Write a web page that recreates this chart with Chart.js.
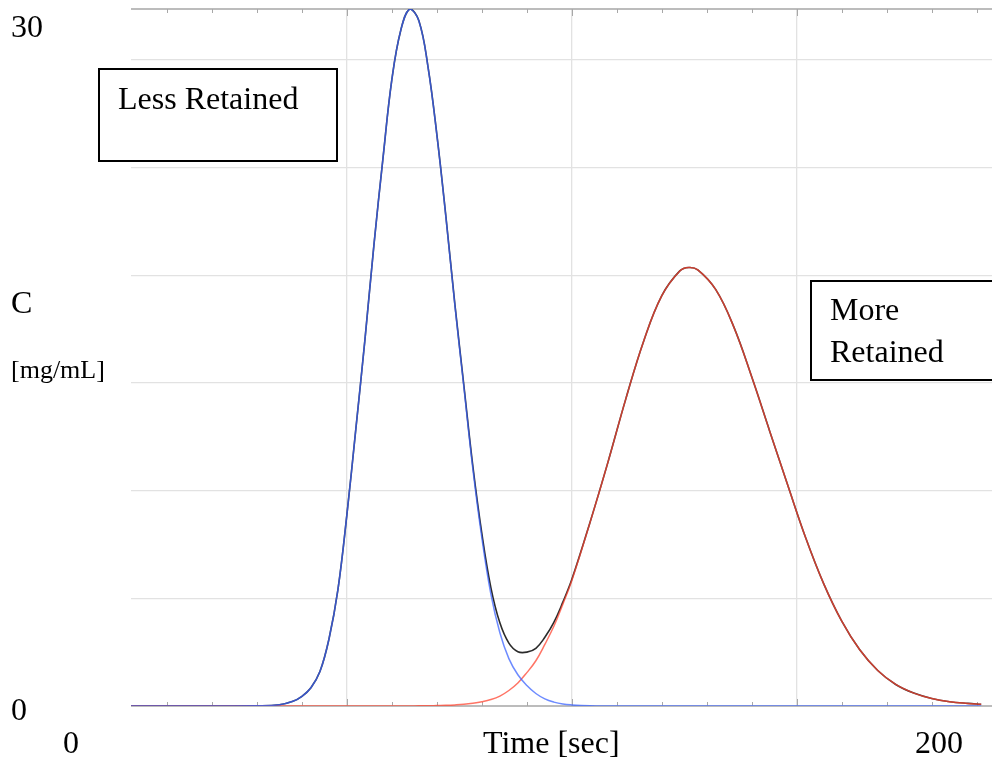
<!DOCTYPE html>
<html>
<head>
<meta charset="utf-8">
<script src="https://cdn.jsdelivr.net/npm/chart.js@4.4.1/dist/chart.umd.min.js"></script>
<style>
  html, body { margin: 0; padding: 0; background: #fff; }
  #wrap { width: 992px; height: 759px; position: relative; }
</style>
</head>
<body>
<div id="wrap"><canvas id="myChart"></canvas></div>
<script>
// * data (time in sec, C in mg/mL)
const times = [2, 10, 20, 30, 35, 38, 40, 42, 44, 46, 48, 50, 52, 54, 56, 58, 60, 62, 64, 66,
  68, 70, 72, 74, 76, 78, 80, 82, 84, 86, 88, 90, 92, 94, 96, 98, 100, 104, 108, 112,
  116, 120, 124, 126, 128, 132, 136, 140, 144, 148, 152, 156, 160, 164, 168, 172, 176, 180, 184, 188, 191];

const lessRetained = [0, 0, 0, 0.01, 0.06, 0.22, 0.45, 0.85, 1.6, 3.1, 5.4, 8.9, 12.9, 17.0, 21.4, 25.4, 29.1, 31.4, 32.36, 31.8,
  29.7, 26.5, 22.7, 18.6, 14.8, 11.0, 7.8, 5.2, 3.4, 2.2, 1.45, 0.95, 0.58, 0.33, 0.18, 0.09, 0.05, 0.01, 0, 0,
  0, 0, 0, 0, 0, 0, 0, 0, 0, 0, 0, 0, 0, 0, 0, 0, 0, 0, 0, 0, 0];

const moreRetained = [0, 0, 0, 0, 0, 0, 0, 0, 0, 0, 0, 0, 0, 0, 0, 0, 0, 0, 0, 0.01,
  0.01, 0.02, 0.03, 0.05, 0.08, 0.13, 0.2, 0.3, 0.46, 0.72, 1.07, 1.55, 2.1, 2.86, 3.7, 4.73, 5.83, 8.49, 11.3, 14.26,
  16.96, 19.05, 20.2, 20.36, 20.25, 19.33, 17.6, 15.27, 12.75, 10.25, 7.8, 5.67, 3.94, 2.61, 1.65, 1.0, 0.6, 0.35, 0.2, 0.12, 0.08];

const total = [0, 0, 0, 0.01, 0.06, 0.22, 0.45, 0.85, 1.6, 3.1, 5.4, 8.9, 12.9, 17.0, 21.4, 25.4, 29.1, 31.4, 32.36, 31.81,
  29.71, 26.52, 22.73, 18.65, 14.88, 11.13, 8.0, 5.5, 3.86, 2.92, 2.52, 2.5, 2.68, 3.19, 3.88, 4.82, 5.88, 8.5, 11.3, 14.26,
  16.96, 19.05, 20.2, 20.36, 20.25, 19.33, 17.6, 15.27, 12.75, 10.25, 7.8, 5.67, 3.94, 2.61, 1.65, 1.0, 0.6, 0.35, 0.2, 0.12, 0.08];

const xMin = 2, xMax = 193.4;
const yMax = 32.36;
const minorTicks = [10, 20, 30, 40, 50, 60, 70, 80, 90, 100, 110, 120, 130, 140, 150, 160, 170, 180, 190];

const serif = "'Liberation Serif', 'Times New Roman', serif";

function pts(ys) {
  return times.map((t, i) => ({ x: t, y: ys[i] }));
}

// * frame lines + small inward ticks on top and bottom
const framePlugin = {
  id: "frame",
  beforeDatasetsDraw(chart) {
    const { ctx, chartArea: a, scales } = chart;
    ctx.save();
    ctx.strokeStyle = "#a6a6a6";
    ctx.lineWidth = 1.5;
    ctx.beginPath();
    ctx.moveTo(a.left, a.top); ctx.lineTo(a.right, a.top);
    ctx.moveTo(a.left, a.bottom); ctx.lineTo(a.right, a.bottom);
    ctx.stroke();
    ctx.lineWidth = 1;
    ctx.strokeStyle = "#a8a8a8";
    for (const t of minorTicks) {
      const x = Math.round(scales.x.getPixelForValue(t)) + 0.5;
      const len = t % 50 === 0 ? 7 : 4;
      ctx.beginPath();
      ctx.moveTo(x, a.top); ctx.lineTo(x, a.top + len);
      ctx.moveTo(x, a.bottom); ctx.lineTo(x, a.bottom - len);
      ctx.stroke();
    }
    ctx.restore();
  },
  afterDraw(chart) {
    const { ctx } = chart;
    ctx.save();
    ctx.fillStyle = "#000";
    ctx.textBaseline = "alphabetic";
    ctx.font = "32px " + serif;
    ctx.fillText("30", 11, 37);
    ctx.fillText("C", 11, 313);
    ctx.fillText("0", 11, 720);
    ctx.fillText("0", 63, 753);
    ctx.fillText("Time [sec]", 483, 753);
    ctx.fillText("200", 915, 753);
    ctx.font = "26px " + serif;
    ctx.fillText("[mg/mL]", 11, 378);

    // text boxes
    ctx.lineWidth = 2;
    ctx.strokeStyle = "#000";
    ctx.fillStyle = "#fff";
    ctx.fillRect(99, 69, 238, 92);
    ctx.strokeRect(99, 69, 238, 92);
    ctx.fillRect(811, 281, 190, 99);
    ctx.strokeRect(811, 281, 190, 99);
    ctx.fillStyle = "#000";
    ctx.font = "32px " + serif;
    ctx.fillText("Less Retained", 118, 109);
    ctx.fillText("More", 830, 320);
    ctx.fillText("Retained", 830, 362);
    ctx.restore();
  },
};

const data = {
  datasets: [
    {
      label: "Less Retained",
      data: pts(lessRetained),
      borderColor: "rgba(60,100,255,0.75)",
      borderWidth: 1.5,
      order: 0,
    },
    {
      label: "More Retained",
      data: pts(moreRetained),
      borderColor: "rgba(255,70,50,0.75)",
      borderWidth: 1.5,
      order: 1,
    },
    {
      label: "Total",
      data: pts(total),
      borderColor: "rgba(20,20,20,0.9)",
      borderWidth: 1.6,
      order: 2,
    },
  ],
};

let config = {
  type: "line",
  data: data,
  options: {
    responsive: true,
    maintainAspectRatio: false,
    animation: false,
    layout: { padding: { left: 131, top: 9, right: 0, bottom: 53 } },
    elements: {
      point: { radius: 0 },
      line: { tension: 0.4, fill: false },
    },
    plugins: {
      legend: { display: false },
      tooltip: { enabled: false },
    },
    scales: {
      x: {
        type: "linear",
        min: xMin,
        max: xMax,
        ticks: { display: false, stepSize: 10 },
        border: { display: false },
        grid: {
          drawTicks: false,
          lineWidth: 1.3,
          color: (c) => (c.tick && c.tick.value % 50 === 0 ? "#e2e2e2" : "rgba(0,0,0,0)"),
        },
        afterFit(scale) { scale.height = 0; },
      },
      y: {
        min: 0,
        max: yMax,
        ticks: { display: false, stepSize: 5 },
        border: { display: false },
        grid: {
          drawTicks: false,
          lineWidth: 1.3,
          color: (c) => (c.tick && c.tick.value % 5 === 0 && c.tick.value > 0 ? "#e2e2e2" : "rgba(0,0,0,0)"),
        },
        afterFit(scale) { scale.width = 0; },
      },
    },
  },
  plugins: [framePlugin],
};

let chart = new Chart("myChart", config);
</script>
</body>
</html>
